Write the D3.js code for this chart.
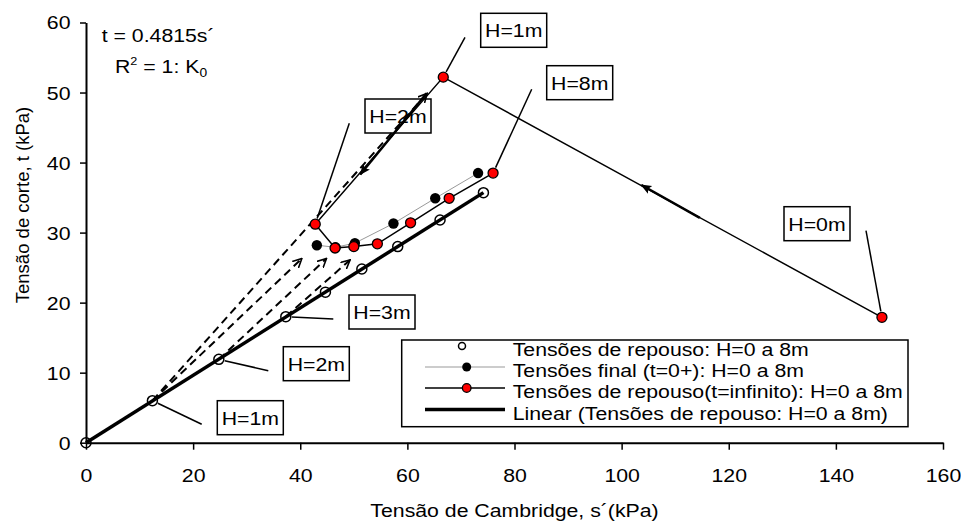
<!DOCTYPE html>
<meta charset="utf-8">
<style>
body { margin: 0; background: #fff; }
svg { font-family: "Liberation Sans", Arial, sans-serif; font-size: 18.5px; }
</style>
<svg width="961" height="528"></svg>
<script src="https://d3js.org/d3.v7.min.js"></script>
<script>

// depth of each point, m
var depths = [0, 1, 2, 3, 4, 5, 6, 7, 8];

// at-rest stresses (open circles)
var restS = [0, 12.4, 24.8, 37.3, 44.7, 51.5, 58.2, 66.1, 74.2];
var restT = [0, 6.0, 11.9, 18.0, 21.5, 24.8, 28.0, 31.8, 35.7];

// final stresses t=0+ (black dots), H=3..8
var finalDepths = [3, 4, 5, 6, 7, 8];
var finalS = [43.1, 46.6, 50.2, 57.4, 65.2, 73.2];
var finalT = [28.2, 27.9, 28.5, 31.3, 34.9, 38.5];

// stresses at t=infinity (red dots), H=0..8
var longS = [148.6, 66.7, 42.8, 46.5, 50.0, 54.4, 60.6, 67.8, 76.0];
var longT = [17.9, 52.2, 31.2, 27.8, 28.0, 28.4, 31.4, 34.9, 38.5];

// hand drawn dashed arrows: start at a rest point, tip in (s, t)
var dashFrom = [1, 1, 2, 3];
var dashTipS = [63.7, 40.3, 44.9, 49.3];
var dashTipT = [49.9, 26.3, 26.3, 26.1];

// hand drawn solid arrows along the path
var pathArrowFromS = [114.6, 63.6];
var pathArrowFromT = [32.1, 49.9];
var pathArrowToS = [103.7, 51.2];
var pathArrowToT = [36.8, 38.3];

var xTicks = [0, 20, 40, 60, 80, 100, 120, 140, 160];
var yTicks = [0, 10, 20, 30, 40, 50, 60];

var legendLabels = [
  "Tensões de repouso: H=0 a 8m",
  "Tensões final (t=0+): H=0 a 8m",
  "Tensões de repouso(t=infinito): H=0 a 8m",
  "Linear (Tensões de repouso: H=0 a 8m)"
];

var SX = 1.15; // text in the picture is a bit wide

var svg = d3.select("svg");

var x = d3.scaleLinear().domain([0, 160]).range([86, 943]),
    y = d3.scaleLinear().domain([0, 60]).range([442.7, 22.5]);

function label(sel, px, py, str, anchor) {
  return sel.append("text")
      .attr("transform", "translate(" + px + "," + py + ") scale(" + SX + ",1)")
      .attr("text-anchor", anchor || "start")
      .text(str);
}

// arrow heads
var defs = svg.append("defs");
defs.append("marker")
    .attr("id", "open")
    .attr("viewBox", "0 0 10 10")
    .attr("refX", 9).attr("refY", 5)
    .attr("markerWidth", 10).attr("markerHeight", 10)
    .attr("markerUnits", "userSpaceOnUse")
    .attr("orient", "auto")
  .append("path")
    .attr("d", "M0,0.5L9,5L0,9.5")
    .attr("fill", "none")
    .attr("stroke", "#000")
    .attr("stroke-width", 1.6);
defs.append("marker")
    .attr("id", "solid")
    .attr("viewBox", "0 0 10 10")
    .attr("refX", 9).attr("refY", 5)
    .attr("markerWidth", 11).attr("markerHeight", 11)
    .attr("markerUnits", "userSpaceOnUse")
    .attr("orient", "auto")
  .append("path")
    .attr("d", "M0,1L10,5L0,9L2,5Z")
    .attr("fill", "#000");

// axes
var gx = svg.append("g")
    .attr("transform", "translate(0," + y(0) + ")")
    .call(d3.axisBottom(x).tickValues(xTicks).tickSize(7).tickSizeOuter(0));
var gy = svg.append("g")
    .attr("transform", "translate(" + x(0) + ",0)")
    .call(d3.axisLeft(y).tickValues(yTicks).tickSize(6).tickSizeOuter(0));

[gx, gy].forEach(function(g) {
  g.attr("font-size", null).attr("font-family", null);
  g.select(".domain").attr("stroke-width", 2);
  g.selectAll(".tick line").attr("stroke-width", 1.5);
  g.selectAll(".tick text").attr("fill", "#000");
});
gx.selectAll(".tick text")
    .attr("y", 39).attr("dy", null)
    .attr("transform", "scale(" + SX + ",1)")
    .attr("x", function(d) { return 0; });
gx.selectAll(".tick").each(function(d) {
  d3.select(this).select("text").attr("transform", "scale(" + SX + ",1)");
});
gy.selectAll(".tick text")
    .attr("x", -15.5 / SX).attr("dy", "0.35em")
    .attr("transform", "scale(" + SX + ",1)");

// axis titles
label(svg, 514.5, 516.7, "Tensão de Cambridge, s´(kPa)", "middle");
svg.append("text")
    .attr("transform", "translate(28.5,205) rotate(-90)")
    .attr("text-anchor", "middle")
    .text("Tensão de corte, t (kPa)");

// trendline label
label(svg, 101.7, 41.7, "t = 0.4815s´");
var r2 = svg.append("text")
    .attr("transform", "translate(115,72.5) scale(" + SX + ",1)");
r2.append("tspan").text("R");
r2.append("tspan").attr("font-size", "11px").attr("dy", -8).text("2");
r2.append("tspan").attr("dy", 8).text(" = 1: K");
r2.append("tspan").attr("font-size", "12px").attr("dy", 4).text("0");

// callout boxes (drawn under the data lines)
var callouts = [
  {text: "H=1m", s: longS[1], t: longT[1], bx: 480.7, by: 13.3, lx: 465, ly: 37.3},
  {text: "H=8m", s: longS[8], t: longT[8], bx: 546.7, by: 65.7, lx: 531.7, ly: 89.3},
  {text: "H=2m", s: longS[2], t: longT[2], bx: 365, by: 99, lx: 349.3, ly: 123.3},
  {text: "H=0m", s: longS[0], t: longT[0], bx: 784, by: 206.7, lx: 866, ly: 230.7},
  {text: "H=3m", s: restS[3], t: restT[3], bx: 349, by: 295, lx: 333.3, ly: 319},
  {text: "H=2m", s: restS[2], t: restT[2], bx: 283.3, by: 346.7, lx: 268.3, ly: 370.7},
  {text: "H=1m", s: restS[1], t: restT[1], bx: 217.3, by: 400.7, lx: 201.7, ly: 424.3}
];
callouts.forEach(function(c) {
  var px = x(c.s), py = y(c.t),
      dx = c.lx - px, dy = c.ly - py, len = Math.sqrt(dx * dx + dy * dy);
  svg.append("line")
      .attr("x1", c.lx).attr("y1", c.ly)
      .attr("x2", px + dx / len * 6).attr("y2", py + dy / len * 6)
      .attr("stroke", "#000").attr("stroke-width", 1.5);
  svg.append("rect")
      .attr("x", c.bx).attr("y", c.by)
      .attr("width", 66).attr("height", 34)
      .attr("fill", "#fff").attr("stroke", "#000").attr("stroke-width", 1.5);
  label(svg, c.bx + 33, c.by + 24, c.text, "middle");
});

// linear trendline through the origin (least squares)
var sxy = d3.sum(restS, function(s, i) { return s * restT[i]; }),
    sxx = d3.sum(restS, function(s) { return s * s; }),
    slope = sxy / sxx,
    sMax = d3.max(restS);
svg.append("line")
    .attr("x1", x(0)).attr("y1", y(0))
    .attr("x2", x(sMax)).attr("y2", y(slope * sMax))
    .attr("stroke", "#000").attr("stroke-width", 3.5);

// dashed arrows
dashFrom.forEach(function(k, i) {
  svg.append("line")
      .attr("x1", x(restS[k])).attr("y1", y(restT[k]))
      .attr("x2", x(dashTipS[i])).attr("y2", y(dashTipT[i]))
      .attr("stroke", "#000").attr("stroke-width", 2)
      .attr("stroke-dasharray", "8,5")
      .attr("marker-end", "url(#open)");
});

// final (t=0+) series
var line = d3.line().x(function(d) { return x(d[0]); }).y(function(d) { return y(d[1]); });
var finalPts = finalS.map(function(s, i) { return [s, finalT[i]]; });
svg.append("path")
    .attr("d", line(finalPts))
    .attr("fill", "none").attr("stroke", "#999").attr("stroke-width", 1);
svg.selectAll(".final")
  .data(finalPts)
  .enter().append("circle")
    .attr("class", "final")
    .attr("cx", function(d) { return x(d[0]); })
    .attr("cy", function(d) { return y(d[1]); })
    .attr("r", 5.2)
    .attr("fill", "#000");

// t = infinity series
var longPts = longS.map(function(s, i) { return [s, longT[i]]; });
svg.append("path")
    .attr("d", line(longPts))
    .attr("fill", "none").attr("stroke", "#000").attr("stroke-width", 1.5);

// solid arrows on the path
pathArrowFromS.forEach(function(s, i) {
  svg.append("line")
      .attr("x1", x(s)).attr("y1", y(pathArrowFromT[i]))
      .attr("x2", x(pathArrowToS[i])).attr("y2", y(pathArrowToT[i]))
      .attr("stroke", "#000").attr("stroke-width", 2.5)
      .attr("marker-end", "url(#solid)");
});

svg.selectAll(".long")
  .data(longPts)
  .enter().append("circle")
    .attr("class", "long")
    .attr("cx", function(d) { return x(d[0]); })
    .attr("cy", function(d) { return y(d[1]); })
    .attr("r", 5)
    .attr("fill", "#f00")
    .attr("stroke", "#000").attr("stroke-width", 1.3);

// at-rest series
svg.selectAll(".rest")
  .data(restS)
  .enter().append("circle")
    .attr("class", "rest")
    .attr("cx", function(d) { return x(d); })
    .attr("cy", function(d, i) { return y(restT[i]); })
    .attr("r", 5)
    .attr("fill", "none")
    .attr("stroke", "#000").attr("stroke-width", 1.5);

// legend
var lg = svg.append("g");
lg.append("rect")
    .attr("x", 401.7).attr("y", 340)
    .attr("width", 506.3).attr("height", 86.7)
    .attr("fill", "#fff").attr("stroke", "#000").attr("stroke-width", 1.5);
var rows = [356, 377, 398, 419.5];
rows.forEach(function(b, i) {
  var cy = b - 10;
  if (i === 1 || i === 2 || i === 3) {
    lg.append("line")
        .attr("x1", 425).attr("x2", 505).attr("y1", cy).attr("y2", cy)
        .attr("stroke", i === 1 ? "#999" : "#000")
        .attr("stroke-width", i === 1 ? 1 : (i === 2 ? 1.5 : 3.5));
  }
  if (i === 0) {
    lg.append("circle").attr("cx", 462).attr("cy", cy).attr("r", 3.5)
        .attr("fill", "#fff").attr("stroke", "#000").attr("stroke-width", 1.5);
  } else if (i === 1) {
    lg.append("circle").attr("cx", 466.7).attr("cy", cy).attr("r", 4.5).attr("fill", "#000");
  } else if (i === 2) {
    lg.append("circle").attr("cx", 466.7).attr("cy", cy).attr("r", 4.3)
        .attr("fill", "#f00").attr("stroke", "#000").attr("stroke-width", 1.3);
  }
  label(lg, 512.7, b, legendLabels[i]);
});

</script>
